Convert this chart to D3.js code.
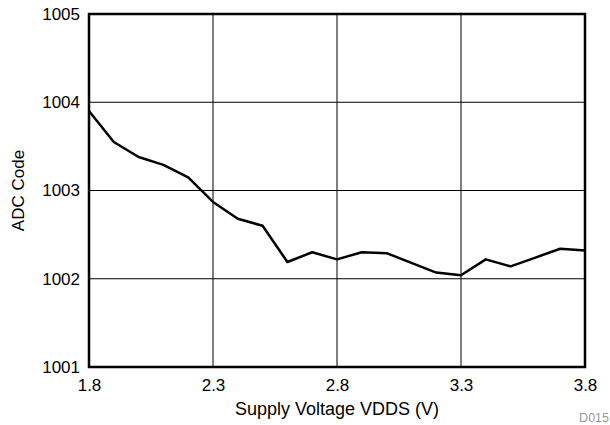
<!DOCTYPE html>
<html><head><meta charset="utf-8">
<script src="https://cdn.jsdelivr.net/npm/d3@7"></script>
<style>body{margin:0;background:#fff}svg text{font-family:"Liberation Sans",Arial,sans-serif}</style>
</head><body><svg id="c" width="610" height="425"></svg>
<script>
const voltages = [1.8,1.9,2.0,2.1,2.2,2.3,2.4,2.5,2.6,2.7,2.8,2.9,3.0,3.1,3.2,3.3,3.4,3.5,3.6,3.7,3.8];
const adcCode = [1003.90,1003.55,1003.38,1003.29,1003.15,1002.87,1002.68,1002.60,1002.19,1002.30,1002.22,1002.30,1002.29,1002.18,1002.07,1002.04,1002.22,1002.14,1002.24,1002.34,1002.32];
const xTicks = [1.8,2.3,2.8,3.3,3.8];
const yTicks = [1001,1002,1003,1004,1005];

const L=89,R=585,T=14,B=367;
const FF="Liberation Sans, Arial, sans-serif";
const svg=d3.select("#c");
const x=d3.scaleLinear().domain([1.8,3.8]).range([L,R]);
const y=d3.scaleLinear().domain([1001,1005]).range([B,T]);

// grid
svg.append("g").selectAll("line").data(xTicks.slice(1,-1)).join("line")
 .attr("x1",d=>x(d)).attr("x2",d=>x(d)).attr("y1",T).attr("y2",B)
 .attr("stroke","#000").attr("stroke-width",1);
svg.append("g").selectAll("line").data(yTicks.slice(1,-1)).join("line")
 .attr("y1",d=>y(d)).attr("y2",d=>y(d)).attr("x1",L).attr("x2",R)
 .attr("stroke","#000").attr("stroke-width",1);

// axes labels
const xa=d3.axisBottom(x).tickValues(xTicks).tickSize(0).tickPadding(12).tickFormat(d3.format(".1f"));
const gx=svg.append("g").attr("transform",`translate(0,${B})`).call(xa);
gx.select(".domain").remove();
gx.selectAll("text").attr("font-size",17).attr("fill","#000").attr("font-family",FF);
const ya=d3.axisLeft(y).tickValues(yTicks).tickSize(0).tickPadding(9).tickFormat(d3.format("d"));
const gy=svg.append("g").attr("transform",`translate(${L},0)`).call(ya);
gy.select(".domain").remove();
gy.selectAll("text").attr("font-size",17).attr("fill","#000").attr("font-family",FF);

// line
svg.append("path").datum(voltages.map((v,i)=>[v,adcCode[i]]))
 .attr("d",d3.line().x(d=>x(d[0])).y(d=>y(d[1])))
 .attr("fill","none").attr("stroke","#000").attr("stroke-width",2.5).attr("stroke-linejoin","round");

// frame
svg.append("rect").attr("x",L).attr("y",T).attr("width",R-L).attr("height",B-T)
 .attr("fill","none").attr("stroke","#000").attr("stroke-width",2.5);

svg.append("text").attr("x",(L+R)/2).attr("y",415).attr("text-anchor","middle")
 .attr("font-size",18).text("Supply Voltage VDDS (V)");
svg.append("text").attr("transform",`translate(24,${(T+B)/2}) rotate(-90)`).attr("text-anchor","middle")
 .attr("font-size",17).text("ADC Code");
svg.append("text").attr("x",609).attr("y",422).attr("text-anchor","end")
 .attr("font-size",12.5).attr("fill","#999").text("D015");
</script></body></html>
